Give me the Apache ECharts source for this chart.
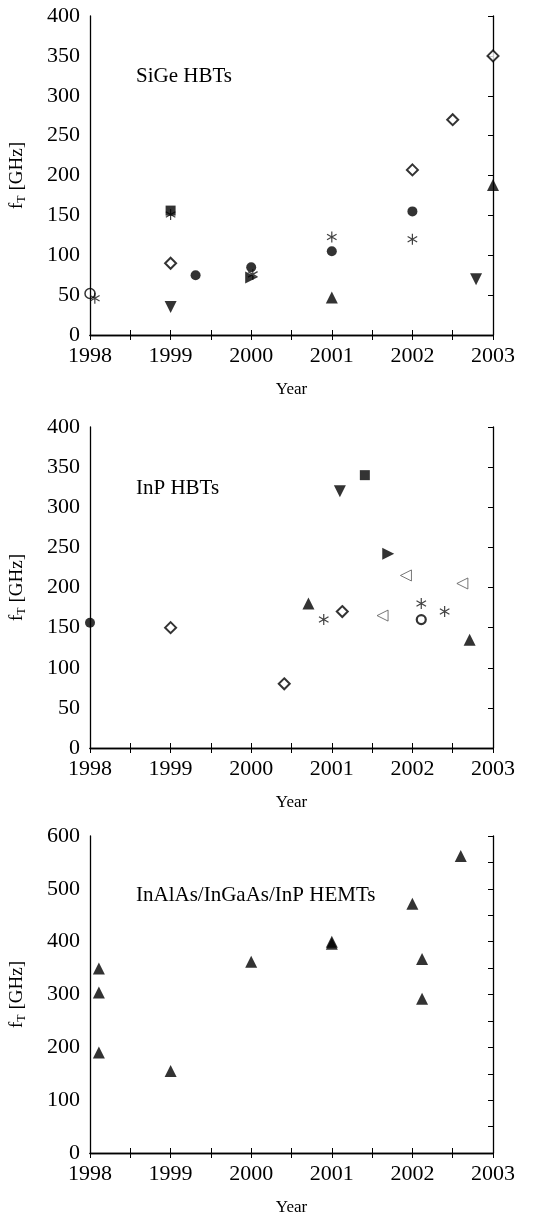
<!DOCTYPE html>
<html>
<head>
<meta charset="utf-8">
<script src="https://cdn.jsdelivr.net/npm/echarts@6/dist/echarts.min.js"></script>
<style>
  html, body { margin: 0; padding: 0; background: #fff; }
  #main { width: 551px; height: 1214px; }
</style>
</head>
<body>
<div id="main"></div>
<script>
// [year, fT in GHz]
// SiGe HBTs
const sigeCircle = [[1999.31, 75], [2000, 85], [2001, 105], [2002, 155]];
const sigeDiamond = [[1999, 90], [2002, 207], [2002.5, 270], [2003, 350]];
const sigeSquare = [[1999, 156]];
const sigeStar = [[1999, 151], [2000.02, 76], [2001, 123], [2002, 120], [1998.06, 46]];
const sigeTriUp = [[2001, 47], [2003, 188]];
const sigeTriDown = [[1999, 35], [2002.79, 70]];
const sigeTriRight = [[2000, 72]];
const sigeOpenCircle = [[1998, 52]];
// InP HBTs
const inpCircle = [[1998, 156]];
const inpDiamond = [[1999, 150], [2000.41, 80], [2001.13, 170]];
const inpSquare = [[2001.41, 340]];
const inpTriDown = [[2001.1, 320]];
const inpTriRight = [[2001.7, 242]];
const inpTriLeft = [[2001.92, 215], [2002.62, 205], [2001.63, 165]];
const inpTriUp = [[2000.71, 180], [2002.71, 135]];
const inpStar = [[2000.9, 160], [2002.11, 180], [2002.4, 170]];
const inpOpenCircle = [[2002.11, 160]];
// InAlAs/InGaAs/InP HEMTs
const hemtTriUp = [[1998.11, 349], [1998.11, 304], [1998.11, 190], [1999, 155], [2000, 362],
  [2001, 396], [2001, 400], [2002, 472], [2002.12, 367], [2002.12, 292], [2002.6, 562]];

const panelTitles = ['SiGe HBTs', 'InP HBTs', 'InAlAs/InGaAs/InP HEMTs'];
const yMax = [400, 400, 600];
const yLabelStep = [50, 50, 100];
const yearMin = 1998, yearMax = 2003;

const FONT = 'Liberation Serif';
const grids = [
  { left: 90, right: 58, top: 16, height: 319, outerBoundsMode: 'none', containLabel: false },
  { left: 90, right: 58, top: 427, height: 321, outerBoundsMode: 'none', containLabel: false },
  { left: 90, right: 58, top: 836, height: 317, outerBoundsMode: 'none', containLabel: false }
];
const titleTops = [66, 478, 885];

const star = 'path://M0,-5L0,5M-4.33,-2.5L4.33,2.5M-4.33,2.5L4.33,-2.5';

const xAxes = [], yAxes = [];
grids.forEach((g, i) => {
  const line = { show: true, lineStyle: { color: '#000', width: 1.3 } };
  const tick = { show: true, inside: true, length: 5, lineStyle: { color: '#000', width: 1 } };
  xAxes.push({
    gridIndex: i, type: 'value', min: yearMin, max: yearMax, interval: 0.5,
    axisLine: line, axisTick: tick, splitLine: { show: false },
    axisLabel: {
      color: '#000', fontFamily: FONT, fontSize: 22, margin: 10,
      formatter: v => (v % 1 === 0 ? String(v) : '')
    },
    name: 'Year', nameLocation: 'middle', nameGap: 46,
    nameTextStyle: { color: '#000', fontFamily: FONT, fontSize: 17 }
  });
  xAxes.push({
    gridIndex: i, type: 'value', position: 'top', min: yearMin, max: yearMax, interval: 0.5,
    axisLine: line, axisTick: tick, axisLabel: { show: false }, splitLine: { show: false }
  });
  yAxes.push({
    gridIndex: i, type: 'value', min: 0, max: yMax[i], interval: 50,
    axisLine: line, axisTick: { show: false }, splitLine: { show: false },
    axisLabel: {
      color: '#000', fontFamily: FONT, fontSize: 22, margin: 10,
      formatter: v => (v % yLabelStep[i] === 0 ? String(v) : '')
    },
    name: 'f{s|T} [GHz]', nameLocation: 'middle', nameGap: 62, nameRotate: 90,
    nameTextStyle: {
      color: '#000', fontFamily: FONT, fontSize: 19,
      rich: { s: { fontFamily: FONT, fontSize: 12, color: '#000', padding: [9, 0, 0, 0] } }
    }
  });
  yAxes.push({
    gridIndex: i, type: 'value', position: 'right', min: 0, max: yMax[i], interval: 50,
    axisLine: line, axisTick: tick, axisLabel: { show: false }, splitLine: { show: false }
  });
});

function sc(panel, data, symbol, size, style, rotate) {
  return {
    type: 'scatter', xAxisIndex: panel * 2, yAxisIndex: panel * 2,
    data: data, symbol: symbol, symbolSize: size, symbolRotate: rotate || 0,
    symbolKeepAspect: true, clip: false,
    itemStyle: style, emphasis: { disabled: true }, animation: false
  };
}
const filled = { color: '#000' };
const openBlack = { color: '#fff', borderColor: '#000', borderWidth: 2 };
const openGray = { color: '#fff', borderColor: '#555', borderWidth: 1 };
const starStyle = { color: 'none', borderColor: '#111', borderWidth: 1.2 };

const series = [
  sc(0, sigeCircle, 'circle', 10, filled),
  sc(0, sigeDiamond, 'diamond', 11, openBlack),
  sc(0, sigeStar, star, 11, starStyle),
  sc(0, sigeSquare, 'rect', 10, filled),
  sc(0, sigeTriUp, 'triangle', 12, filled),
  sc(0, sigeTriDown, 'triangle', 12, filled, 180),
  sc(0, sigeTriRight, 'triangle', 12, filled, -90),
  sc(0, sigeOpenCircle, 'circle', 10, { color: 'none', borderColor: '#000', borderWidth: 1.5 }),

  sc(1, inpCircle, 'circle', 10, filled),
  sc(1, inpDiamond, 'diamond', 11, openBlack),
  sc(1, inpSquare, 'rect', 10, filled),
  sc(1, inpTriDown, 'triangle', 12, filled, 180),
  sc(1, inpTriRight, 'triangle', 12, filled, -90),
  sc(1, inpTriLeft, 'triangle', 11, openGray, 90),
  sc(1, inpTriUp, 'triangle', 12, filled),
  sc(1, inpStar, star, 11, starStyle),
  sc(1, inpOpenCircle, 'circle', 9, { color: '#fff', borderColor: '#000', borderWidth: 2.2 }),

  sc(2, hemtTriUp, 'triangle', 12, filled)
];

const chart = echarts.init(document.getElementById('main'));
chart.setOption({
  backgroundColor: '#fff',
  animation: false,
  title: panelTitles.map((t, i) => ({
    text: t, left: 136, top: titleTops[i], padding: 0,
    textStyle: { color: '#000', fontFamily: FONT, fontSize: 21, fontWeight: 'normal' }
  })),
  grid: grids,
  xAxis: xAxes,
  yAxis: yAxes,
  series: series
});
</script>
</body>
</html>
